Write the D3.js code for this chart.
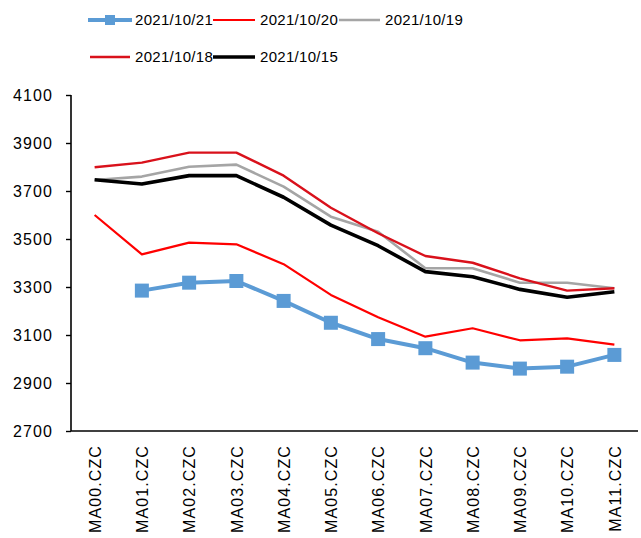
<!DOCTYPE html>
<html>
<head>
<meta charset="utf-8">
<script src="https://cdn.jsdelivr.net/npm/d3@7/dist/d3.min.js"></script>
<style>
  html, body { margin: 0; padding: 0; background: #fff; }
  svg { display: block; font-family: "Liberation Sans", Arial, sans-serif; }
</style>
</head>
<body>
<svg id="chart" width="641" height="538"></svg>
<script>
const categories = ["MA00.CZC","MA01.CZC","MA02.CZC","MA03.CZC","MA04.CZC","MA05.CZC","MA06.CZC","MA07.CZC","MA08.CZC","MA09.CZC","MA10.CZC","MA11.CZC"];
const s1021 = [null, 3285, 3318, 3325, 3242, 3151, 3083, 3045, 2985, 2960, 2968, 3017];
const s1020 = [3600, 3436, 3485, 3478, 3395, 3267, 3174, 3093, 3128, 3078, 3086, 3060];
const s1019 = [3746, 3760, 3801, 3810, 3718, 3593, 3530, 3378, 3378, 3318, 3318, 3295];
const s1018 = [3799, 3818, 3860, 3860, 3764, 3630, 3524, 3429, 3401, 3336, 3285, 3295];
const s1015 = [3747, 3729, 3764, 3764, 3674, 3558, 3472, 3364, 3343, 3290, 3257, 3280];
const seriesNames = ["2021/10/21","2021/10/20","2021/10/19","2021/10/18","2021/10/15"];
const yTicks = [2700, 2900, 3100, 3300, 3500, 3700, 3900, 4100];

const series = [
  {name: seriesNames[0], values: s1021, color: "#5B9BD5", width: 4, marker: true},
  {name: seriesNames[1], values: s1020, color: "#FF0000", width: 2.2},
  {name: seriesNames[2], values: s1019, color: "#A5A5A5", width: 2.6},
  {name: seriesNames[3], values: s1018, color: "#D9111B", width: 2.4},
  {name: seriesNames[4], values: s1015, color: "#000000", width: 3.6}
];

const svg = d3.select("#chart");
const pLeft = 71, pRight = 638, pTop = 95, pBottom = 431;

const x = d3.scalePoint().domain(categories).range([pLeft, pRight]).padding(0.5);
const y = d3.scaleLinear().domain([2700, 4100]).range([pBottom, pTop]);

// y axis
const yAxis = svg.append("g").attr("transform", `translate(${pLeft},0)`)
  .call(d3.axisLeft(y).tickValues(yTicks).tickSize(5).tickPadding(13).tickFormat(d3.format("d")));
yAxis.select(".domain").attr("stroke", "#000").attr("stroke-width", 1.6).attr("d", `M0,${pTop}V${pBottom}`);
yAxis.selectAll(".tick line").attr("stroke", "#000").attr("stroke-width", 1.4);
yAxis.selectAll(".tick text").attr("font-size", 16).attr("fill", "#000")
  .style("letter-spacing", "1.1px").attr("font-family", "'Liberation Sans', Arial, sans-serif");

// x axis
const xAxis = svg.append("g").attr("transform", `translate(0,${pBottom})`)
  .call(d3.axisBottom(x).tickSize(0).tickPadding(0));
xAxis.select(".domain").attr("stroke", "#000").attr("stroke-width", 1.6).attr("d", `M${pLeft},0H${pRight}`);
xAxis.selectAll(".tick text")
  .attr("font-size", 16).attr("fill", "#000")
  .style("letter-spacing", "1.1px")
  .attr("font-family", "'Liberation Sans', Arial, sans-serif")
  .attr("text-anchor", "end")
  .attr("transform", "translate(0,14) rotate(-90)")
  .attr("x", 0).attr("y", 0).attr("dy", "0.36em");

// lines
const lineGen = d3.line()
  .defined(d => d.v !== null)
  .x(d => x(d.c))
  .y(d => y(d.v));

series.forEach(s => {
  const pts = categories.map((c, i) => ({c, v: s.values[i]}));
  svg.append("path").datum(pts)
    .attr("fill", "none").attr("stroke", s.color).attr("stroke-width", s.width)
    .attr("stroke-linejoin", "round")
    .attr("d", lineGen);
  if (s.marker) {
    svg.append("g").selectAll("rect").data(pts.filter(d => d.v !== null)).join("rect")
      .attr("x", d => x(d.c) - 7).attr("y", d => y(d.v) - 7)
      .attr("width", 14).attr("height", 14)
      .attr("fill", s.color);
  }
});

// legend
const legendPos = [
  {x1: 88, x2: 132, tx: 135, y: 20},
  {x1: 213, x2: 255, tx: 260, y: 20},
  {x1: 339, x2: 380, tx: 385, y: 20},
  {x1: 90, x2: 130, tx: 135, y: 57},
  {x1: 213, x2: 255, tx: 260, y: 57}
];
const lg = svg.append("g");
series.forEach((s, i) => {
  const p = legendPos[i];
  lg.append("line").attr("x1", p.x1).attr("x2", p.x2).attr("y1", p.y).attr("y2", p.y)
    .attr("stroke", s.color).attr("stroke-width", s.width);
  if (s.marker) {
    lg.append("rect").attr("x", (p.x1 + p.x2) / 2 - 5).attr("y", p.y - 5)
      .attr("width", 10).attr("height", 10).attr("fill", s.color);
  }
  lg.append("text").attr("x", p.tx).attr("y", p.y).attr("dy", "0.36em")
    .attr("font-size", 15).style("letter-spacing", "0.3px").attr("fill", "#000")
    .text(s.name);
});
</script>
</body>
</html>
